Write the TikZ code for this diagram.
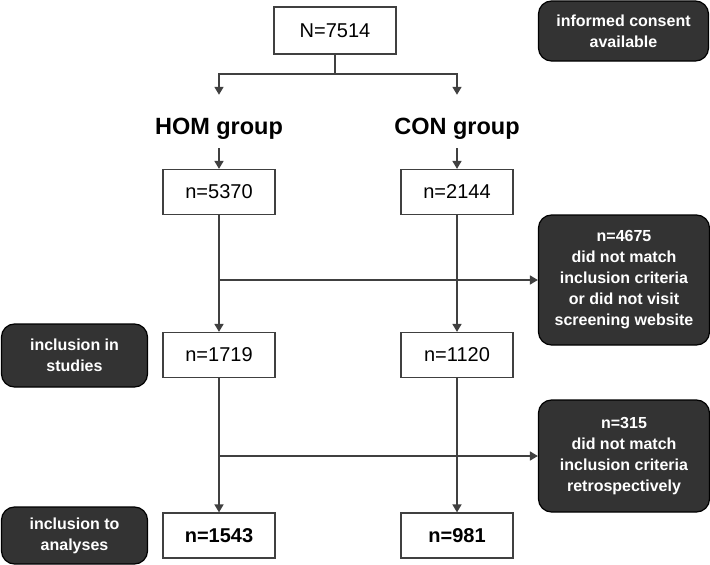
\documentclass[tikz,border=0pt]{standalone}
\usepackage{fontspec}
\setmainfont{Liberation Sans}
\usetikzlibrary{arrows.meta}
\definecolor{linec}{HTML}{404040}
\definecolor{darkfill}{HTML}{333333}
\begin{document}
\begin{tikzpicture}[x=1pt,y=-1pt,
  wbox/.style={draw=linec,line width=1.2pt,fill=white,minimum width=112pt,minimum height=45pt,inner sep=0pt,font=\fontsize{20}{24}\selectfont},
  wboxb/.style={wbox,font=\bfseries\fontsize{20}{24}\selectfont},
  dbox/.style={draw=black,line width=1.2pt,fill=darkfill,rounded corners=13pt,text=white,font=\bfseries\fontsize{16}{21}\selectfont,align=center,inner sep=0pt},
  glabel/.style={font=\bfseries\fontsize{23.5}{28}\selectfont,inner sep=0pt,text height=17pt,text depth=5pt},
  conn/.style={draw=linec,line width=1.6pt},
  arr/.style={conn,-{Triangle[length=8pt,width=9pt]}}]
\useasboundingbox (0,0) rectangle (710,565);

% main boxes
\node[wbox,minimum width=122pt,minimum height=47pt] (top) at (335,30.5) {N=7514};
\node[glabel,anchor=base] (hom) at (219,134) {HOM group};
\node[glabel,anchor=base] (con) at (457,134) {CON group};
\node[wbox] (h1) at (219,192) {n=5370};
\node[wbox] (c1) at (457,192) {n=2144};
\node[wbox] (h2) at (219,355) {n=1719};
\node[wbox] (c2) at (457,355) {n=1120};
\node[wboxb] (h3) at (219,535.5) {n=1543};
\node[wboxb] (c3) at (457,535.5) {n=981};

% dark side boxes
\node[dbox,minimum width=170pt,minimum height=60pt] (consent) at (623.5,31) {informed consent\\available};
\node[dbox,minimum width=171pt,minimum height=130pt] (ex1) at (624,280) {n=4675\\did not match\\inclusion criteria\\or did not visit\\screening website};
\node[dbox,minimum width=171pt,minimum height=112pt] (ex2) at (624,456) {n=315\\did not match\\inclusion criteria\\retrospectively};
\node[dbox,minimum width=146pt,minimum height=63pt] (studies) at (74.5,355.5) {inclusion in\\studies};
\node[dbox,minimum width=146pt,minimum height=57pt] (analyses) at (74.5,535.5) {inclusion to\\analyses};

% connectors
\coordinate (split) at (335,74);
\draw[conn] (top.south) -- (split);
\draw[arr] (split) -| ([yshift=22pt]hom.north);
\draw[arr] (split) -| ([yshift=22pt]con.north);
\draw[arr] ([yshift=-9pt]hom.south) -- (h1.north);
\draw[arr] ([yshift=-9pt]con.south) -- (c1.north);

\draw[arr] (h1.south) -- (h2.north);
\draw[arr] (c1.south) -- (c2.north);
\coordinate (b1) at (h1.south |- ex1.west);
\draw[arr] (b1) -- (ex1.west);

\draw[arr] (h2.south) -- (h3.north);
\draw[arr] (c2.south) -- (c3.north);
\coordinate (b2) at (h2.south |- ex2.west);
\draw[arr] (b2) -- (ex2.west);
\end{tikzpicture}
\end{document}
